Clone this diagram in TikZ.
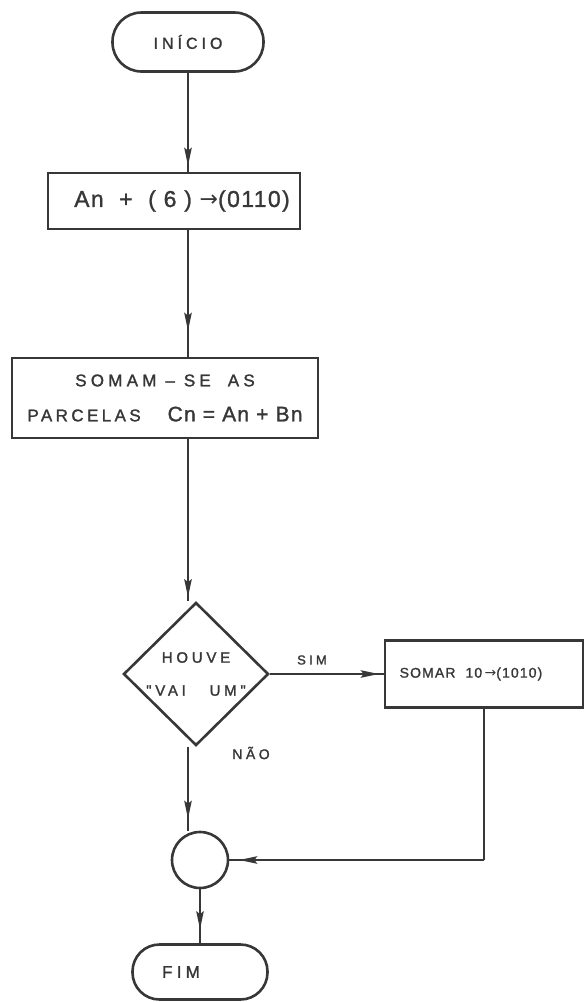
\documentclass[tikz,border=0pt]{standalone}
\usepackage{fontspec}
\setmainfont{Liberation Sans}[FakeBold=1.2]
\newfontfamily\spaced[LetterSpace=25,FakeBold=1.5]{Liberation Sans}
\newfontfamily\symf{DejaVu Sans}
\usetikzlibrary{shapes.geometric,arrows.meta,decorations.markings}
\definecolor{ink}{RGB}{55,55,55}
\tikzset{
  term/.style={draw=ink, line width=2.6pt, rectangle, inner sep=0pt, text=ink},
  boxnode/.style={draw=ink, line width=2.6pt, rectangle, inner sep=0pt, text=ink},
  lbl/.style={text=ink, inner sep=0pt},
  flow/.style={draw=ink, line width=1.8pt, postaction={decorate},
    decoration={markings, mark=at position -#1 with {\arrow{Stealth[length=18pt,width=7.5pt,inset=3pt]}}}},
  flow/.default=3pt,
  plain/.style={draw=ink, line width=1.8pt}
}
\begin{document}
\begin{tikzpicture}[x=1pt,y=-1pt]
\useasboundingbox (0,0) rectangle (586,1002);
\node[term, rounded corners=29pt, minimum width=151pt, minimum height=59pt,
  font=\fontsize{16}{18}\selectfont\spaced] (start) at (188,42) {INÍCIO};
\node[boxnode, minimum width=252pt, minimum height=56pt,
  font=\fontsize{23}{26}\selectfont\addfontfeature{LetterSpace=6}] (b1) at (174,201)
  {\hspace*{16pt}An\ \ +\ \ ( 6 ) {\symf\fontsize{22}{24}\selectfont →}(0110)};
\node[boxnode, minimum width=306pt, minimum height=80pt, align=center,
  font=\fontsize{17}{35}\selectfont\spaced] (b2) at (165,398)
  {SOMAM – SE\quad AS\\
   {\addfontfeature{LetterSpace=20}PARCELAS}\ \ \ {\fontsize{21}{22}\selectfont\addfontfeature{LetterSpace=6}Cn = An + Bn}};
\node[diamond, aspect=1, draw=ink, line width=2.6pt, inner sep=0pt, minimum width=145pt, minimum height=140pt,
  text=ink, align=center, font=\fontsize{15}{33}\selectfont\spaced] (dec) at (196,674)
  {HOUVE\\ "VAI\ \ \ UM"};
\node[boxnode, minimum width=198pt, minimum height=67pt,
  font=\fontsize{14}{18}\selectfont\addfontfeature{LetterSpace=8,FakeBold=1.5}] (b3) at (484,674)
  {SOMAR\ \ 10\,{\symf\fontsize{14}{16}\selectfont →}(1010)\hspace*{26pt}};
\node[circle, draw=ink, line width=2.6pt, minimum size=56pt, inner sep=0pt] (join) at (200,860) {};
\node[term, rounded corners=27pt, minimum width=135pt, minimum height=55pt,
  font=\fontsize{17}{20}\selectfont\spaced] (fim) at (200,972) {FIM\hspace*{38pt}};
\node[lbl, font=\fontsize{13}{15}\selectfont\spaced] (sim) at (312,660) {SIM};
\node[lbl, font=\fontsize{14}{16}\selectfont\spaced] (nao) at (251,753) {NÃO};
\coordinate (corner) at (b3.south |- join.east);
\draw[flow=6pt] (start.south) -- (start.south |- b1.north);
\draw[flow=26pt] (start.south |- b1.south) -- (start.south |- b2.north);
\draw[flow=4pt] (start.south |- b2.south) -- (start.south |- dec.north);
\draw[flow=5pt] (dec.east) -- (b3.west);
\draw[flow=12pt] (start.south |- dec.south) -- (start.south |- join.north);
\draw[plain] (b3.south) -- (corner);
\draw[flow=10pt] (corner) -- (join.east);
\draw[flow=14pt] (join.south) -- (fim.north);
\end{tikzpicture}
\end{document}
